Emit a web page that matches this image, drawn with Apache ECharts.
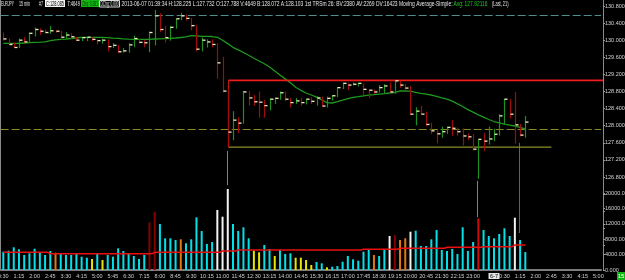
<!DOCTYPE html>
<html>
<head>
<meta charset="utf-8">
<script src="https://cdn.jsdelivr.net/npm/echarts@6.0.0/dist/echarts.min.js"></script>
<style>
  html, body { margin: 0; background: #000; }
  #chart { width: 625px; height: 280px; }
</style>
</head>
<body>
<div id="chart"></div>
<script>
// 15 min bars, first slot 0:30 on 6-6, last drawn bar 1:30 on 6-7
const firstSlotMinutes = 30;
const slotCount = 115;
const newDayLabel = "6-7";

const opens = [
  130.15, 130.03, 129.90, 129.83, 130.00, 129.96, 130.16, 130.25, 130.21, 130.18,
  130.22, 130.21, 130.07, 130.12, 130.08, 130.00, 130.06, 130.07, 130.02, 129.99,
  130.00, 129.85, 129.88, 129.73, 129.75, 129.89, 130.04, 129.95, 129.94, 130.18,
  130.57, 130.25, 130.06, 130.30, 130.50, 130.57, 130.51, 130.34, 129.79, 129.90,
  129.96, 129.90, 129.47, 128.81, 127.85, 128.13, 128.06, 128.79, 128.65, 128.56,
  128.55, 128.47, 128.62, 128.64, 128.77, 128.62, 128.54, 128.58, 128.54, 128.62,
  128.57, 128.65, 128.46, 128.64, 128.70, 128.89, 128.99, 128.95, 128.97, 128.99,
  128.85, 128.83, 128.79, 128.89, 128.93, 128.79, 129.05, 128.95, 128.88, 128.27,
  128.34, 128.27, 128.03, 127.88, 127.81, 127.86, 127.96, 127.94, 127.86, 127.76,
  127.74, 127.45, 127.68, 127.64, 127.69, 127.80, 128.23, 128.62, 128.27, 128.02,
  127.788
];
const highs = [
  130.18, 130.04, 129.95, 130.04, 130.07, 130.18, 130.30, 130.28, 130.25, 130.33,
  130.23, 130.22, 130.19, 130.16, 130.08, 130.08, 130.08, 130.07, 130.02, 130.04,
  130.02, 129.93, 129.89, 129.82, 129.93, 130.11, 130.04, 130.01, 130.20, 130.71,
  130.63, 130.33, 130.33, 130.51, 130.64, 130.60, 130.52, 130.35, 130.06, 130.02,
  130.02, 129.93, 129.61, 128.85, 128.34, 128.20, 128.81, 128.81, 128.72, 128.80,
  128.60, 128.64, 128.66, 128.80, 128.80, 128.65, 128.65, 128.65, 128.63, 128.66,
  128.69, 128.68, 128.68, 128.72, 128.90, 129.01, 128.99, 129.01, 129.01, 128.99,
  128.85, 128.85, 128.95, 128.97, 129.01, 129.05, 129.05, 128.98, 128.93, 128.43,
  128.46, 128.33, 128.07, 127.90, 127.98, 127.98, 128.13, 127.96, 127.94, 127.82,
  127.80, 127.68, 127.83, 127.98, 127.93, 128.27, 128.63, 128.62, 128.79, 128.04,
  128.225
];
const lows = [
  130.00, 129.90, 129.83, 129.83, 129.95, 129.96, 130.10, 130.14, 130.17, 130.16,
  130.19, 130.02, 130.04, 130.04, 129.99, 129.99, 129.99, 129.99, 129.91, 129.93,
  129.75, 129.83, 129.71, 129.72, 129.72, 129.85, 129.93, 129.85, 129.73, 129.89,
  130.20, 129.96, 130.00, 130.28, 130.48, 130.47, 130.24, 129.75, 129.75, 129.84,
  129.85, 129.11, 128.79, 127.55, 127.67, 127.84, 128.06, 128.48, 128.48, 128.20,
  128.20, 128.37, 128.52, 128.62, 128.59, 128.44, 128.52, 128.48, 128.51, 128.52,
  128.48, 128.46, 128.44, 128.60, 128.68, 128.87, 128.85, 128.95, 128.93, 128.73,
  128.66, 128.76, 128.79, 128.76, 128.78, 128.76, 128.90, 128.83, 128.27, 128.02,
  128.27, 128.00, 127.82, 127.60, 127.73, 127.82, 127.78, 127.78, 127.55, 127.67,
  127.43, 126.77, 127.42, 127.57, 127.65, 127.78, 128.04, 128.18, 127.59, 127.76,
  127.732
];
const closes = [
  130.03, 129.90, 129.83, 130.00, 129.96, 130.16, 130.25, 130.21, 130.18, 130.22,
  130.21, 130.07, 130.12, 130.08, 130.00, 130.06, 130.07, 130.02, 129.99, 130.00,
  129.85, 129.88, 129.73, 129.75, 129.89, 130.04, 129.95, 129.94, 130.18, 130.57,
  130.25, 130.06, 130.30, 130.50, 130.57, 130.51, 130.34, 129.79, 130.00, 129.96,
  129.90, 129.47, 128.81, 127.85, 128.13, 128.06, 128.79, 128.65, 128.56, 128.55,
  128.47, 128.62, 128.64, 128.77, 128.62, 128.54, 128.58, 128.54, 128.62, 128.57,
  128.65, 128.46, 128.64, 128.70, 128.89, 128.99, 128.95, 128.97, 128.99, 128.85,
  128.83, 128.79, 128.89, 128.93, 128.79, 129.05, 128.95, 128.88, 128.27, 128.34,
  128.27, 128.03, 127.88, 127.81, 127.86, 127.96, 127.94, 127.86, 127.76, 127.74,
  127.45, 127.68, 127.64, 127.69, 127.80, 128.23, 128.62, 128.27, 128.02, 127.78,
  128.085
];

// Moving Average-Simple (21)
const smaValues = [
  129.927, 129.927, 129.927, 129.927, 129.934, 129.941, 129.951, 129.955, 129.962, 129.990,
  130.007, 130.018, 130.025, 130.040, 130.051, 130.065, 130.068, 130.068, 130.068, 130.065,
  130.058, 130.049, 130.042, 130.032, 130.025, 130.021, 130.021, 130.021, 130.021, 130.028,
  130.032, 130.037, 130.042, 130.051, 130.063, 130.079, 130.105, 130.103, 130.091, 130.091,
  130.086, 130.068, 130.000, 129.920, 129.834, 129.775, 129.712, 129.647, 129.579, 129.513,
  129.450, 129.373, 129.279, 129.186, 129.095, 129.003, 128.900, 128.828, 128.765, 128.718,
  128.669, 128.601, 128.538, 128.531, 128.561, 128.599, 128.636, 128.662, 128.678, 128.699,
  128.716, 128.727, 128.739, 128.751, 128.765, 128.776, 128.812, 128.812, 128.809, 128.781,
  128.755, 128.737, 128.718, 128.685, 128.652, 128.620, 128.575, 128.512, 128.449, 128.376,
  128.318, 128.255, 128.201, 128.145, 128.098, 128.065, 128.037, 128.016, 127.993, 127.962,
  127.921
];

const volumes = [
  4753, 5012, 5895, 5376, 3896, 4337, 5532, 4493, 3896, 4934,
  4493, 4155, 3896, 3896, 4337, 3454, 3194, 2857, 4155, 2597,
  3896, 3454, 5635, 4934, 4155, 3636, 2857, 3896, 12388, 15141,
  11946, 8232, 8232, 7791, 7973, 6934, 7973, 13686, 10128, 6752,
  7272, 15582, 13842, 21036, 11946, 10128, 11089, 8232, 5012, 4597,
  6493, 5454, 3636, 5194, 4155, 4337, 3194, 3194, 2597, 1299,
  2078, 1740, 701, 857, 1039, 2156, 3636, 2779, 2415, 4753,
  5376, 3896, 3636, 5376, 8830, 9090, 7791, 8232, 9947, 10206,
  6233, 6233, 7973, 10388, 5194, 4934, 5454, 4155, 11089, 4934,
  7272, 13426, 10388, 8830, 8232, 9349, 10829, 8830, 13582, 7791,
  4649
];
// volume bar class per bar: n normal, y low, o orange, w high, d climax, r spike
const volumeClass = (
  "nnnnnnnnnn" + "onnnnnnyny" + "nnnnnnnndd" + "nnnnonnnnn" + "nwwwnnnnyy" +
  "nnynnnyyyy" + "nnynnnnnnn" + "nonnwdoown" + "nnnnnnnnnn" + "nrnnnnnnwnn"
).split("");

const volumeAverage = [
  4597, 4597, 4597, 4597, 4597, 4597, 4597, 4597, 4597,
  4233, 4233, 4233, 4233, 4233, 4233, 4233, 4233, 4233, 4233,
  4233, 4233, 4233, 4233, 4233, 4233, 4233, 4233, 4233, 4233,
  4597, 4597, 4597, 4597, 4597, 4597, 4597, 4597, 4597, 4597, 4597, 4597, 4597,
  4934, 4934, 4934,
  5194, 5194, 5194, 5194, 5194, 5194, 5194, 5194, 5194, 5194, 5194, 5194,
  5194, 5194, 5194, 5194, 5194, 5194, 5194, 5194, 5194, 5194, 5194, 5194,
  5376, 5376, 5376, 5376, 5376, 5376, 5376,
  5635, 5635, 5635, 5635, 5635, 5635, 5635, 5635, 5635,
  5895, 5895, 5895, 5895, 5895, 5895, 5895,
  6051, 6051, 6051, 6051, 6051, 6051,
  6493, 6493, 6493
];

// drawn objects: box [startIndex, top, bottom, bottomEndIndex], spikes [index, from, to]
const rangeBox = [[43, 129.06, 127.50, 104.7]];
const oliveSpikes = [[43, 127.41, 126.61], [91, 126.71, 125.86]];
const greenSpikes = [[99, 127.60, 125.49]];
const upperLevel = 130.59;
const averageLevel = 127.921;
const lastPrice = 128.085;

const UP = "#1f8f1f";
const DOWN = "#a00c0c";
const volumeColors = { n: "#00e1ea", y: "#e6e600", o: "#e07a10", w: "#f2f2f2", d: "#870000", r: "#cc0a0a" };

const times = [];
for (let k = 0; k < slotCount; k++) {
  const m = (firstSlotMinutes + k * 15) % 1440;
  times.push(Math.floor(m / 60) + ":" + String(m % 60).padStart(2, "0"));
}

const ohlc = opens.map((o, k) => [k, o, highs[k], lows[k], closes[k]]);

const renderBar = (params, api) => {
  const k = api.value(0);
  const o = api.value(1);
  const c = api.value(4);
  const hi = api.coord([k, api.value(2)]);
  const lo = api.coord([k, api.value(3)]);
  const cl = api.coord([k, c]);
  const x = Math.round(hi[0]) + 0.5;
  return {
    type: "group",
    children: [
      { type: "line", shape: { x1: x, y1: hi[1], x2: x, y2: lo[1] + 0.5 },
        style: { stroke: c >= o ? UP : DOWN, lineWidth: 1.2 } },
      { type: "line", shape: { x1: x, y1: cl[1], x2: x + 3, y2: cl[1] },
        style: { stroke: "#f0f0c4", lineWidth: 1.3 } },
    ],
  };
};

const spikeRenderer = (color) => (params, api) => {
  const a = api.coord([api.value(0), api.value(1)]);
  const b = api.coord([api.value(0), api.value(2)]);
  const x = Math.round(a[0]) - 0.5;
  return { type: "line", shape: { x1: x, y1: a[1], x2: x, y2: b[1] },
    style: { stroke: color, lineWidth: 1 } };
};

const renderBox = (params, api) => {
  const cs = params.coordSys;
  const tl = api.coord([api.value(0), api.value(1)]);
  const bl = api.coord([api.value(0), api.value(2)]);
  const br = api.coord([api.value(3), api.value(2)]);
  const x0 = Math.round(tl[0]) + 0.5;
  return {
    type: "group",
    children: [
      { type: "line", shape: { x1: x0, y1: bl[1], x2: br[0], y2: bl[1] },
        style: { stroke: "#8e8e26", lineWidth: 1.2 } },
      { type: "line", shape: { x1: x0, y1: tl[1], x2: x0, y2: bl[1] },
        style: { stroke: "#c81010", lineWidth: 1.2 } },
      { type: "line", shape: { x1: x0, y1: tl[1], x2: cs.x + cs.width + 2, y2: tl[1] },
        style: { stroke: "#ee1c1c", lineWidth: 1.6 } },
    ],
  };
};

// header line, squeezed into the widths the platform uses
const measure = document.createElement("canvas").getContext("2d");
const headFont = "7px 'Liberation Sans'";
const fitText = (text, x, width, fill) => {
  measure.font = headFont;
  const w = measure.measureText(text).width;
  return { type: "text", x: x, y: 4, scaleX: width / w,
    style: { text: text, font: headFont, fill: fill, verticalAlign: "middle" } };
};
const header = [
  fitText("EURJPY", 1, 13, "#e6e6e6"),
  fitText("15 min", 19, 11, "#e6e6e6"),
  fitText("#7", 39, 4, "#e6e6e6"),
  { type: "rect", shape: { x: 45, y: 0, width: 20, height: 7 }, style: { fill: "#f4f4f4" } },
  fitText("C:128.085", 46, 18, "#000"),
  fitText("T:4649", 67.5, 12.5, "#e6e6e6"),
  { type: "rect", shape: { x: 81, y: 0, width: 18, height: 7 }, style: { fill: "#12b812" } },
  fitText("Chg: 0.381", 82, 16, "#003000"),
  { type: "rect", shape: { x: 99.5, y: 0.5, width: 20, height: 6.5 },
    style: { fill: "none", stroke: "#d8d8d8", lineWidth: 1 } },
  fitText("DChg: 0.000", 100.5, 18, "#e6e6e6"),
  fitText("2013-06-07 01:39:34 H:128.225 L:127.732 O:127.788 V:4649 B:128.072 A:128.103 1st TRSm 26: BV:2380 AV:2269 DV:16423 Moving Average-Simple:", 121.5, 331, "#e6e6e6"),
  fitText("Avg: 127.92116", 453.5, 34, "#22c822"),
  fitText("(Last, 21)", 492, 16.5, "#e6e6e6"),
  { type: "rect", shape: { x: 0, y: 0, width: 1, height: 271 }, style: { fill: "#8a8a8a" } },
  { type: "rect", shape: { x: 617, y: 272, width: 8, height: 8 }, style: { fill: "#12b412" } },
  { type: "text", x: 621, y: 276.5,
    style: { text: "15", font: "6px 'Liberation Sans'", fill: "#ffffff", align: "center", verticalAlign: "middle" } },
];

const axisFont = "Liberation Sans";
const plotLeft = 0.7;
const plotWidth = 600.3;

const chart = echarts.init(document.getElementById("chart"));
chart.setOption({
  animation: false,
  backgroundColor: "#000",
  graphic: header,
  grid: [
    { left: plotLeft, width: plotWidth, top: -11.1, height: 256.5, outerBoundsMode: "none", containLabel: false },
    { left: plotLeft, width: plotWidth, top: 177.6, height: 92.4, outerBoundsMode: "none", containLabel: false },
  ],
  xAxis: [
    { type: "category", gridIndex: 0, data: times, boundaryGap: true, show: false },
    {
      type: "category", gridIndex: 1, data: times, boundaryGap: true,
      axisLine: { lineStyle: { color: "#7c7c7c", width: 2 } },
      axisTick: { show: false },
      axisLabel: {
        color: "#cfcfcf", fontSize: 5.5, fontFamily: axisFont, margin: 3,
        hideOverlap: false,
        interval: (idx, value) => (idx % 3 === 0 && value !== "23:45") || value === "0:00",
        formatter: (value) => (value === "0:00" ? "{d|" + newDayLabel + "}" : value),
        rich: { d: { backgroundColor: "#e4e4e4", color: "#000", fontSize: 5.5, padding: [0, 1.5] } },
      },
    },
  ],
  yAxis: [
    {
      type: "value", gridIndex: 0, position: "right", offset: 2,
      min: 125.2, max: 131.2, interval: 0.4,
      axisLine: { show: true, lineStyle: { color: "#8a8a8a" } },
      axisTick: { show: true, length: 2, lineStyle: { color: "#9a9a9a" } },
      splitLine: { show: false },
      axisLabel: {
        color: "#d4d4d4", fontSize: 5.5, fontFamily: axisFont, margin: 2,
        formatter: (v) => (v > 126.79 && v < 130.81 ? v.toFixed(3) : ""),
      },
    },
    {
      type: "value", gridIndex: 1, position: "right", offset: 2,
      min: 0, max: 24000, interval: 4000,
      axisLine: { show: true, lineStyle: { color: "#8a8a8a" } },
      axisTick: { show: true, length: 2, lineStyle: { color: "#9a9a9a" } },
      splitLine: { show: false },
      axisLabel: {
        color: "#d4d4d4", fontSize: 5.5, fontFamily: axisFont, margin: 2,
        formatter: (v) => (v <= 20000 ? v.toFixed(3) : ""),
      },
    },
  ],
  series: [
    {
      type: "bar", xAxisIndex: 1, yAxisIndex: 1, barWidth: 2, z: 2,
      data: volumes.map((v, k) => ({ value: v, itemStyle: { color: volumeColors[volumeClass[k]] } })),
    },
    {
      type: "line", xAxisIndex: 1, yAxisIndex: 1, data: volumeAverage, step: "middle",
      symbol: "none", z: 3, lineStyle: { color: "#e81010", width: 1.5 },
    },
    {
      type: "custom", xAxisIndex: 0, yAxisIndex: 0, z: 4,
      renderItem: spikeRenderer("#8e8e26"), data: oliveSpikes,
    },
    {
      type: "custom", xAxisIndex: 0, yAxisIndex: 0, z: 4,
      renderItem: spikeRenderer(UP), data: greenSpikes,
    },
    {
      type: "line", xAxisIndex: 0, yAxisIndex: 0, data: smaValues, symbol: "none", z: 5,
      lineStyle: { color: "#1c9a1c", width: 1.3 },
      markLine: {
        silent: true, symbol: "none",
        data: [
          { yAxis: upperLevel, lineStyle: { color: "#4e8e8e", type: [8, 3], width: 1 }, label: { show: false } },
          { yAxis: averageLevel, lineStyle: { color: "#8a8a22", type: [8, 3], width: 1 }, label: { show: false } },
          {
            yAxis: lastPrice, lineStyle: { opacity: 0 },
            label: {
              show: true, position: "end", distance: 3, formatter: lastPrice.toFixed(3),
              backgroundColor: "#ffffff", color: "#000", fontSize: 5.5, fontFamily: axisFont, padding: [0.5, 1],
            },
          },
        ],
      },
    },
    {
      type: "custom", xAxisIndex: 0, yAxisIndex: 0, z: 6,
      renderItem: renderBox, data: rangeBox,
    },
    {
      type: "custom", xAxisIndex: 0, yAxisIndex: 0, z: 7,
      renderItem: renderBar, data: ohlc,
    },
  ],
});
</script>
</body>
</html>
